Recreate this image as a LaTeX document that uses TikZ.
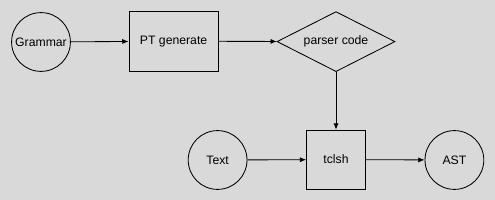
\documentclass[tikz,border=0pt]{standalone}
\usepackage{fontspec}
\setmainfont{Liberation Sans}
\usetikzlibrary{arrows.meta,shapes.geometric}
\definecolor{canvas}{HTML}{D9D9D9}
\definecolor{ink}{HTML}{000000}

\begin{document}
\begin{tikzpicture}[
  font=\fontsize{8.7}{10}\selectfont,
  text=ink,
  base/.style={
    draw=ink,
    line width=0.6pt,
    inner sep=0pt,
    align=center
  },
  terminal/.style={base, circle, minimum size=1.47cm},
  process/.style={base, rectangle, minimum height=1.5cm},
  decision/.style={base, diamond, aspect=1.97, minimum width=2.95cm, minimum height=1.5cm},
  arrow/.style={-{Latex[length=4.5pt,width=3.6pt]}, line width=0.6pt, draw=ink}
]

% Canvas
\fill[canvas] (0,0) rectangle (12.375,-5);
\useasboundingbox (0,0) rectangle (12.375,-5);

% Generator row
\node[terminal] (grammar) at (1.025,-1.05) {Grammar};
\node[process, minimum width=2.23cm] (ptgen) at (4.34,-1.03) {PT generate};
\node[decision] (parser) at (8.40,-1.04) {parser code};

\draw[arrow] (grammar) -- (ptgen);
\draw[arrow] (ptgen) -- (parser);

% Run row
\node[terminal] (text) at (5.44,-4.0) {Text};
\node[process, minimum width=1.47cm, minimum height=1.47cm] (tclsh) at (8.40,-3.99) {tclsh};
\node[terminal] (ast) at (11.36,-4.0) {AST};

\draw[arrow] (parser.south) -- (tclsh.north);
\draw[arrow] (text) -- (tclsh);
\draw[arrow] (tclsh) -- (ast);

\end{tikzpicture}
\end{document}
